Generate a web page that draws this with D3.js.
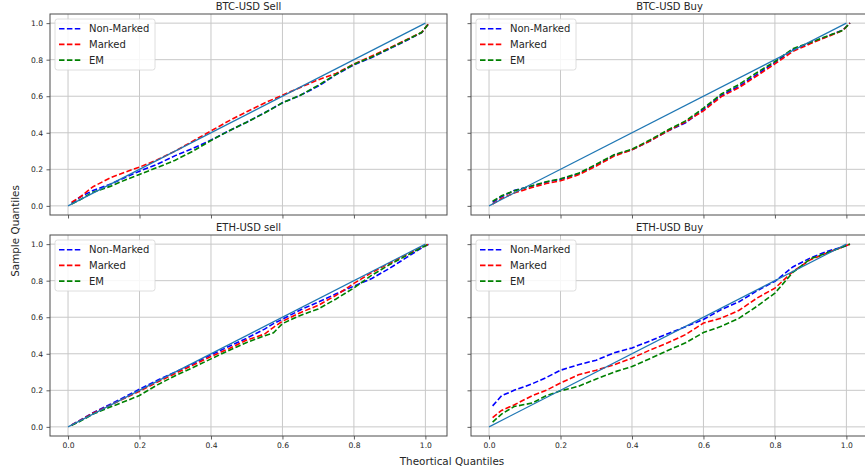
<!DOCTYPE html>
<html>
<head>
<meta charset="utf-8">
<script src="https://cdn.jsdelivr.net/npm/d3@7"></script>
<style>
  html, body { margin: 0; padding: 0; background: #fff; }
  svg { display: block; font-family: "DejaVu Sans", sans-serif; }
</style>
</head>
<body>
<svg id="chart" width="865" height="473"></svg>
<script>
// ---- data ----
const panelTitles = ["BTC-USD Sell", "BTC-USD Buy", "ETH-USD sell", "ETH-USD Buy"];
const seriesNames = ["Non-Marked", "Marked", "EM"];
const seriesColors = ["#0000ff", "#ff0000", "#008000"];
const tickValues = [0.0, 0.2, 0.4, 0.6, 0.8, 1.0];
const tickLabels = ["0.0", "0.2", "0.4", "0.6", "0.8", "1.0"];

const qBase = [0.01, 0.035, 0.07, 0.12, 0.16, 0.2, 0.25, 0.3, 0.35, 0.4, 0.45, 0.5, 0.55, 0.6, 0.65, 0.7, 0.75, 0.8, 0.85, 0.9, 0.95, 0.99, 1.01];
const qEthSell = [0.01, 0.035, 0.07, 0.12, 0.16, 0.2, 0.25, 0.3, 0.35, 0.4, 0.45, 0.5, 0.55, 0.575, 0.6, 0.65, 0.7, 0.75, 0.8, 0.85, 0.9, 0.95, 0.99, 1.01];

// BTC-USD Sell
const btcSellNonMarked = [0.015, 0.05, 0.084, 0.12, 0.155, 0.19, 0.228, 0.275, 0.315, 0.36, 0.41, 0.458, 0.51, 0.564, 0.605, 0.655, 0.718, 0.772, 0.812, 0.86, 0.908, 0.948, 1.0];
const btcSellMarked    = [0.02, 0.05, 0.105, 0.155, 0.185, 0.212, 0.252, 0.3, 0.355, 0.41, 0.465, 0.515, 0.563, 0.606, 0.648, 0.69, 0.725, 0.776, 0.82, 0.865, 0.912, 0.95, 1.0];
const btcSellEM        = [0.01, 0.035, 0.075, 0.108, 0.142, 0.172, 0.21, 0.25, 0.3, 0.358, 0.41, 0.458, 0.508, 0.564, 0.605, 0.66, 0.72, 0.775, 0.815, 0.862, 0.91, 0.95, 1.0];
// BTC-USD Buy
const btcBuyNonMarked = [0.02, 0.05, 0.084, 0.108, 0.13, 0.145, 0.175, 0.222, 0.278, 0.307, 0.355, 0.41, 0.455, 0.528, 0.605, 0.655, 0.72, 0.785, 0.855, 0.892, 0.93, 0.962, 1.0];
const btcBuyMarked    = [0.01, 0.04, 0.07, 0.1, 0.122, 0.137, 0.17, 0.218, 0.272, 0.307, 0.355, 0.41, 0.46, 0.52, 0.598, 0.648, 0.712, 0.777, 0.845, 0.888, 0.928, 0.96, 1.0];
const btcBuyEM        = [0.025, 0.055, 0.082, 0.11, 0.132, 0.148, 0.178, 0.228, 0.28, 0.31, 0.36, 0.415, 0.465, 0.535, 0.612, 0.665, 0.73, 0.79, 0.86, 0.895, 0.932, 0.96, 1.0];
// ETH-USD sell
const ethSellNonMarked = [0.01, 0.038, 0.078, 0.125, 0.165, 0.206, 0.255, 0.3, 0.345, 0.394, 0.44, 0.485, 0.535, 0.565, 0.589, 0.64, 0.683, 0.728, 0.77, 0.812, 0.868, 0.93, 0.98, 1.0];
const ethSellMarked    = [0.01, 0.036, 0.075, 0.12, 0.158, 0.195, 0.245, 0.292, 0.338, 0.385, 0.428, 0.475, 0.508, 0.545, 0.578, 0.625, 0.665, 0.72, 0.785, 0.845, 0.895, 0.945, 0.985, 1.0];
const ethSellEM        = [0.008, 0.032, 0.07, 0.11, 0.14, 0.172, 0.23, 0.28, 0.325, 0.372, 0.418, 0.462, 0.498, 0.515, 0.565, 0.61, 0.645, 0.7, 0.76, 0.83, 0.888, 0.94, 0.982, 1.0];
// ETH-USD Buy
const ethBuyNonMarked = [0.115, 0.17, 0.2, 0.235, 0.27, 0.31, 0.34, 0.365, 0.405, 0.432, 0.47, 0.51, 0.548, 0.588, 0.642, 0.685, 0.745, 0.797, 0.875, 0.925, 0.963, 0.985, 1.0];
const ethBuyMarked    = [0.05, 0.09, 0.12, 0.17, 0.2, 0.24, 0.285, 0.31, 0.34, 0.376, 0.42, 0.46, 0.505, 0.568, 0.595, 0.638, 0.705, 0.759, 0.85, 0.915, 0.955, 0.985, 1.0];
const ethBuyEM        = [0.026, 0.07, 0.111, 0.13, 0.17, 0.197, 0.222, 0.262, 0.3, 0.33, 0.373, 0.418, 0.46, 0.516, 0.55, 0.595, 0.66, 0.732, 0.845, 0.92, 0.955, 0.985, 1.0];

const referenceLine = [[0, 0], [1, 1]];

const panelData = [
  { x: qBase, ys: [btcSellNonMarked, btcSellMarked, btcSellEM] },
  { x: qBase, ys: [btcBuyNonMarked, btcBuyMarked, btcBuyEM] },
  { x: qEthSell, ys: [ethSellNonMarked, ethSellMarked, ethSellEM] },
  { x: qBase, ys: [ethBuyNonMarked, ethBuyMarked, ethBuyEM] }
];

// ---- layout ----
const svg = d3.select("#chart");
const PW = 397, PH = 201;
const panelPos = [[50, 14], [471, 14], [50, 235], [471, 235]];
const textColor = "#262626";
const spineColor = "#4d4d4d";

const x = d3.scaleLinear().domain([-0.0505, 1.0605]).range([0, PW]);
const y = d3.scaleLinear().domain([-0.05, 1.05]).range([PH, 0]);
const line = d3.line().x(d => x(d[0])).y(d => y(d[1]));

panelData.forEach((pd, i) => {
  const [px, py] = panelPos[i];
  const isLeft = i % 2 === 0;
  const isBottom = i >= 2;
  const g = svg.append("g").attr("transform", `translate(${px},${py})`);

  // grid
  g.append("g").selectAll("line.gx").data(tickValues).join("line")
    .attr("x1", d => x(d)).attr("x2", d => x(d))
    .attr("y1", 0).attr("y2", PH)
    .attr("stroke", "#c8c8c8").attr("stroke-width", 1);
  g.append("g").selectAll("line.gy").data(tickValues).join("line")
    .attr("x1", 0).attr("x2", PW)
    .attr("y1", d => y(d)).attr("y2", d => y(d))
    .attr("stroke", "#c8c8c8").attr("stroke-width", 1);

  // series
  pd.ys.forEach((ys, s) => {
    const pts = pd.x.map((xv, k) => [xv, ys[k]]);
    g.append("path").datum(pts)
      .attr("d", line)
      .attr("fill", "none")
      .attr("stroke", seriesColors[s])
      .attr("stroke-width", 1.6)
      .attr("stroke-dasharray", "5.5,2.4");
  });

  // reference line
  g.append("path").datum(referenceLine)
    .attr("d", line)
    .attr("fill", "none")
    .attr("stroke", "#1f77b4")
    .attr("stroke-width", 1.2);

  // axes
  const ax = d3.axisBottom(x).tickValues(tickValues).tickSize(3.5).tickPadding(3)
    .tickFormat((d, k) => isBottom ? tickLabels[k] : "");
  const gx = g.append("g").attr("transform", `translate(0,${PH})`).call(ax);
  const ay = d3.axisLeft(y).tickValues(tickValues).tickSize(3.5).tickPadding(3.5)
    .tickFormat((d, k) => isLeft ? tickLabels[k] : "");
  const gy = g.append("g").call(ay);
  [gx, gy].forEach(a => {
    a.select(".domain").remove();
    a.selectAll(".tick line").attr("stroke", spineColor).attr("stroke-width", 0.9);
    a.selectAll(".tick text").attr("fill", textColor)
      .style("font-size", "7.6px").style("font-family", "DejaVu Sans, sans-serif");
  });

  // spines
  g.append("rect").attr("x", 0).attr("y", 0).attr("width", PW).attr("height", PH)
    .attr("fill", "none").attr("stroke", spineColor).attr("stroke-width", 1);

  // title
  g.append("text").attr("x", PW / 2).attr("y", -4)
    .attr("text-anchor", "middle").attr("fill", textColor)
    .style("font-size", "10px").text(panelTitles[i]);

  // legend
  const lg = g.append("g").attr("transform", "translate(5,5)");
  lg.append("rect").attr("x", 0).attr("y", 0).attr("width", 100).attr("height", 51)
    .attr("rx", 2.5).attr("fill", "#fff").attr("fill-opacity", 0.85)
    .attr("stroke", "#d6d6d6").attr("stroke-width", 0.8);
  seriesNames.forEach((name, s) => {
    const cy = 9.7 + s * 15.7;
    lg.append("line").attr("x1", 4).attr("x2", 26).attr("y1", cy).attr("y2", cy)
      .attr("stroke", seriesColors[s]).attr("stroke-width", 1.6)
      .attr("stroke-dasharray", "5.5,2.4");
    lg.append("text").attr("x", 34).attr("y", cy).attr("dy", "0.35em")
      .attr("fill", textColor).style("font-size", "10px").text(name);
  });
});

// figure labels
svg.append("text").attr("x", 452).attr("y", 465)
  .attr("text-anchor", "middle").attr("fill", textColor)
  .style("font-size", "10.4px").text("Theortical Quantiles");
svg.append("text")
  .attr("transform", "translate(19,231) rotate(-90)")
  .attr("text-anchor", "middle").attr("fill", textColor)
  .style("font-size", "10.4px").text("Sample Quantiles");
</script>
</body>
</html>
